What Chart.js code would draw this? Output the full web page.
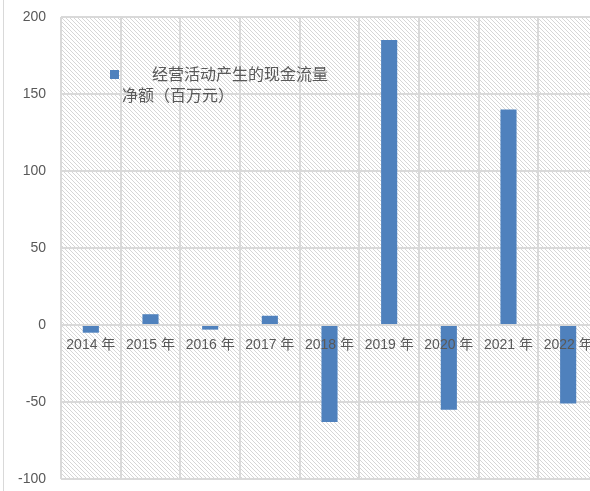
<!DOCTYPE html>
<html>
<head>
<meta charset="utf-8">
<script src="https://cdn.jsdelivr.net/npm/chart.js@4/dist/chart.umd.min.js"></script>
<style>
    html, body { margin: 0; padding: 0; background: #fff; }
    #wrap { position: relative; width: 590px; height: 491px; overflow: hidden; }
    #frame { position: absolute; left: 3px; top: 0; width: 1px; height: 491px; background: #d9d9d9; }
    #box { position: absolute; left: 0; top: 0; }
</style>
</head>
<body>
<div id="wrap">
    <div id="frame"></div>
    <div id="box"><canvas id="barChart" width="600" height="491"></canvas></div>
</div>
<script>
// datos
var anios = ["2014 年", "2015 年", "2016 年", "2017 年", "2018 年", "2019 年", "2020 年", "2021 年", "2022 年"];
var flujoNeto = [-5, 7, -3, 6, -63, 185, -55, 140, -51];
var etiquetaSerie = "经营活动产生的现金流量净额（百万元）";
var ticksY = [-100, -50, 0, 50, 100, 150, 200];

var colorTexto = "#595959";
var colorGrid = "#d9d9d9";
var fuenteNum = "'Liberation Sans', 'Noto Sans CJK SC', sans-serif";
var fuenteCJK = "'Noto Sans CJK SC', sans-serif";

// trama diagonal del area del grafico
function crearTrama(ctx) {
    var c = document.createElement('canvas');
    c.width = 8; c.height = 8;
    var p = c.getContext('2d');
    p.fillStyle = '#fff';
    p.fillRect(0, 0, 8, 8);
    p.fillStyle = '#d6d6d6';
    for (var i = 0; i < 8; i++) {
        p.fillRect(i, i, 1, 1);
        p.fillRect((i + 4) % 8, i, 1, 1);
    }
    return ctx.createPattern(c, 'repeat');
}

var fondoTrama = {
    id: 'fondoTrama',
    beforeDraw: function(chart) {
        var a = chart.chartArea, ctx = chart.ctx;
        ctx.save();
        ctx.fillStyle = crearTrama(ctx);
        ctx.fillRect(a.left, a.top, a.right - a.left, a.bottom - a.top);
        ctx.restore();
    }
};

// leyenda en dos lineas dentro del area
var leyenda = {
    id: 'leyenda',
    afterDraw: function(chart) {
        var a = chart.chartArea, ctx = chart.ctx;
        var ds = chart.data.datasets[0];
        var x0 = a.left + 49, y0 = a.top + 53;
        ctx.save();
        ctx.fillStyle = ds.backgroundColor;
        ctx.fillRect(x0, y0, 9, 9);
        ctx.fillStyle = colorTexto;
        ctx.font = "16px " + fuenteCJK;
        ctx.textBaseline = 'middle';
        ctx.fillText(ds.label.substring(0, 11), x0 + 42, y0 + 4);
        ctx.fillText(ds.label.substring(11), x0 + 12, y0 + 25);
        ctx.restore();
    }
};

var ctx = document.getElementById("barChart").getContext("2d");
new Chart(ctx, {
    type: 'bar',
    data: {
        labels: anios,
        datasets: [{
            label: etiquetaSerie,
            data: flujoNeto,
            backgroundColor: "#4f81bd",
            borderWidth: 0,
            categoryPercentage: 1,
            barPercentage: 0.27
        }]
    },
    options: {
        responsive: false,
        animation: false,
        layout: { padding: { top: 17, right: 2, bottom: 12, left: 0 } },
        plugins: { legend: { display: false }, tooltip: { enabled: false } },
        scales: {
            x: {
                position: { y: 0 },
                afterFit: function(scale) {
                    scale.height = 0;
                    scale.paddingLeft = 0;
                    scale.paddingRight = 0;
                },
                grid: { color: colorGrid, lineWidth: 2, drawTicks: false, offset: true },
                border: { display: false },
                ticks: { z: 1, color: colorTexto, padding: 12, maxRotation: 0, autoSkip: false, font: { size: 14, family: fuenteNum } }
            },
            y: {
                min: -100,
                max: 200,
                afterFit: function(scale) {
                    scale.width = 61;
                    scale.paddingTop = 0;
                    scale.paddingBottom = 0;
                },
                afterBuildTicks: function(scale) { scale.ticks = ticksY.map(function(v) { return { value: v }; }); },
                grid: { color: colorGrid, lineWidth: 2, drawTicks: false },
                border: { display: false },
                ticks: { color: colorTexto, padding: 15, font: { size: 14, family: fuenteNum } }
            }
        }
    },
    plugins: [fondoTrama, leyenda]
});
</script>
</body>
</html>
